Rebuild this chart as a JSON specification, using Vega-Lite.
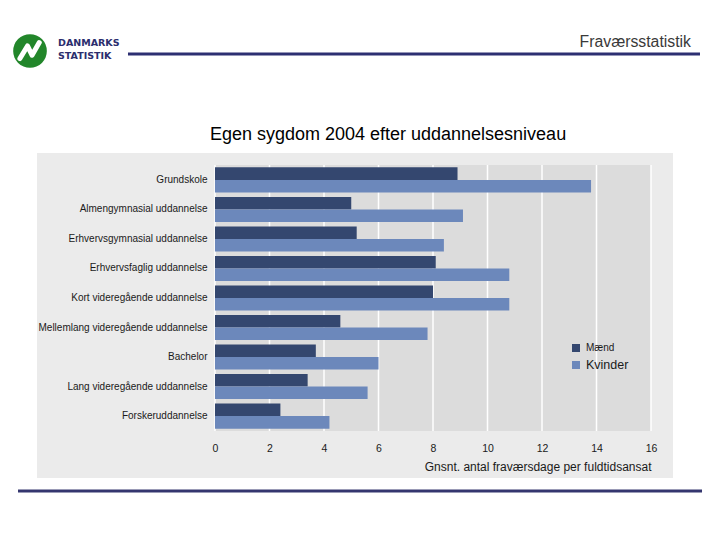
{
  "$schema": "https://vega.github.io/schema/vega-lite/v6.json",
  "width": 436,
  "height": 266,
  "autosize": {"type": "none"},
  "padding": {"left": 215, "top": 165, "right": 69, "bottom": 109},
  "background": "white",
  "config": {"view": {"stroke": null}, "font": "Liberation Sans"},
  "datasets": {
    "fravaer": [
      {"uddannelse": "Grundskole", "koen": "Mænd", "dage": 8.9},
      {"uddannelse": "Grundskole", "koen": "Kvinder", "dage": 13.8},
      {"uddannelse": "Almengymnasial uddannelse", "koen": "Mænd", "dage": 5.0},
      {"uddannelse": "Almengymnasial uddannelse", "koen": "Kvinder", "dage": 9.1},
      {"uddannelse": "Erhvervsgymnasial uddannelse", "koen": "Mænd", "dage": 5.2},
      {"uddannelse": "Erhvervsgymnasial uddannelse", "koen": "Kvinder", "dage": 8.4},
      {"uddannelse": "Erhvervsfaglig uddannelse", "koen": "Mænd", "dage": 8.1},
      {"uddannelse": "Erhvervsfaglig uddannelse", "koen": "Kvinder", "dage": 10.8},
      {"uddannelse": "Kort videregående uddannelse", "koen": "Mænd", "dage": 8.0},
      {"uddannelse": "Kort videregående uddannelse", "koen": "Kvinder", "dage": 10.8},
      {"uddannelse": "Mellemlang videregående uddannelse", "koen": "Mænd", "dage": 4.6},
      {"uddannelse": "Mellemlang videregående uddannelse", "koen": "Kvinder", "dage": 7.8},
      {"uddannelse": "Bachelor", "koen": "Mænd", "dage": 3.7},
      {"uddannelse": "Bachelor", "koen": "Kvinder", "dage": 6.0},
      {"uddannelse": "Lang videregående uddannelse", "koen": "Mænd", "dage": 3.4},
      {"uddannelse": "Lang videregående uddannelse", "koen": "Kvinder", "dage": 5.6},
      {"uddannelse": "Forskeruddannelse", "koen": "Mænd", "dage": 2.4},
      {"uddannelse": "Forskeruddannelse", "koen": "Kvinder", "dage": 4.2}
    ],
    "gitter": [{"v": 0}, {"v": 2}, {"v": 4}, {"v": 6}, {"v": 8}, {"v": 10}, {"v": 12}, {"v": 14}, {"v": 16}],
    "en": [{}]
  },
  "resolve": {"scale": {"y": "independent"}, "axis": {"y": "independent"}},
  "layer": [
    {
      "data": {"name": "en"},
      "mark": {"type": "rect", "fill": "#ebebeb", "clip": false},
      "encoding": {
        "x": {"datum": -6.532, "type": "quantitative", "scale": {"domain": [0, 16], "nice": false, "zero": false}},
        "x2": {"datum": 16.807},
        "y": {"datum": 1.0451, "type": "quantitative", "scale": {"domain": [0, 1], "nice": false, "zero": false}, "axis": null},
        "y2": {"datum": -0.1767}
      }
    },
    {
      "data": {"name": "en"},
      "mark": {"type": "rect", "fill": "#dcdcdc", "clip": false},
      "encoding": {
        "x": {"datum": 0, "type": "quantitative", "scale": {"domain": [0, 16], "nice": false, "zero": false}},
        "x2": {"datum": 16},
        "y": {"datum": 1, "type": "quantitative", "scale": {"domain": [0, 1], "nice": false, "zero": false}, "axis": null},
        "y2": {"datum": 0}
      }
    },
    {
      "data": {"name": "gitter"},
      "mark": {"type": "rule", "stroke": "white", "strokeWidth": 1.5},
      "encoding": {
        "x": {"field": "v", "type": "quantitative", "scale": {"domain": [0, 16], "nice": false, "zero": false}}
      }
    },
    {
      "data": {"name": "fravaer"},
      "mark": {"type": "bar", "clip": false},
      "encoding": {
        "y": {
          "field": "uddannelse", "type": "nominal", "sort": null,
          "scale": {"paddingInner": 0.15, "paddingOuter": 0.08},
          "axis": {"title": null, "ticks": false, "domain": false, "labelPadding": 8, "labelFontSize": 10, "labelColor": "#1a1a1a", "labelLimit": 250, "zindex": 1}
        },
        "yOffset": {"field": "koen", "type": "nominal", "sort": ["Mænd", "Kvinder"], "scale": {"paddingInner": 0, "paddingOuter": 0}},
        "x": {
          "field": "dage", "type": "quantitative",
          "scale": {"domain": [0, 16], "nice": false, "zero": false},
          "axis": {
            "values": [0, 2, 4, 6, 8, 10, 12, 14, 16], "grid": false, "ticks": false, "domain": false, "zindex": 1,
            "labelFlush": false, "labelPadding": 12, "labelFontSize": 10.5, "labelColor": "#1a1a1a",
            "title": "Gnsnt. antal fraværsdage per fuldtidsansat", "titleAnchor": "end", "titleFontWeight": "normal",
            "titleFontSize": 12, "titleColor": "#1a1a1a", "titlePadding": 8
          }
        },
        "color": {
          "field": "koen", "type": "nominal",
          "scale": {"domain": ["Mænd", "Kvinder"], "range": ["#34476f", "#6c88bb"]},
          "legend": {
            "title": null, "orient": "none", "legendX": 356, "legendY": 178,
            "symbolType": "square", "symbolSize": 64, "symbolStrokeWidth": 0, "labelFontSize": 10, "labelColor": "#1a1a1a",
            "rowPadding": 6, "labelOffset": 5, "padding": 0,
            "encode": {"labels": {"update": {"fontSize": {"signal": "datum.label === 'Kvinder' ? 12.5 : 10"}}}}
          }
        }
      }
    },
    {
      "data": {"name": "en"},
      "mark": {"type": "text", "text": "Egen sygdom 2004 efter uddannelsesniveau", "fontSize": 18, "align": "center", "baseline": "middle", "color": "#000000", "clip": false},
      "encoding": {
        "x": {"datum": 6.349, "type": "quantitative", "scale": {"domain": [0, 16], "nice": false, "zero": false}},
        "y": {"datum": 1.1128, "type": "quantitative", "scale": {"domain": [0, 1], "nice": false, "zero": false}, "axis": null}
      }
    },
    {
      "data": {"name": "en"},
      "mark": {"type": "rule", "stroke": "#2d2f72", "strokeWidth": 3, "clip": false},
      "encoding": {
        "x": {"datum": -3.193, "type": "quantitative", "scale": {"domain": [0, 16], "nice": false, "zero": false}},
        "x2": {"datum": 17.798},
        "y": {"datum": 1.4173, "type": "quantitative", "scale": {"domain": [0, 1], "nice": false, "zero": false}, "axis": null}
      }
    },
    {
      "data": {"name": "en"},
      "mark": {"type": "rule", "stroke": "#34366f", "strokeWidth": 3, "clip": false},
      "encoding": {
        "x": {"datum": -7.229, "type": "quantitative", "scale": {"domain": [0, 16], "nice": false, "zero": false}},
        "x2": {"datum": 17.872},
        "y": {"datum": -0.2256, "type": "quantitative", "scale": {"domain": [0, 1], "nice": false, "zero": false}, "axis": null}
      }
    },
    {
      "data": {"name": "en"},
      "mark": {"type": "text", "text": "Fraværsstatistik", "fontSize": 15.8, "align": "right", "baseline": "middle", "color": "#3a3a3a", "clip": false},
      "encoding": {
        "x": {"datum": 17.468, "type": "quantitative", "scale": {"domain": [0, 16], "nice": false, "zero": false}},
        "y": {"datum": 1.4624, "type": "quantitative", "scale": {"domain": [0, 1], "nice": false, "zero": false}, "axis": null}
      }
    },
    {
      "data": {"name": "en"},
      "mark": {"type": "point", "shape": "circle", "size": 1134, "filled": true, "fill": "#22862a", "opacity": 1, "strokeWidth": 0, "clip": false},
      "encoding": {
        "x": {"datum": -6.789, "type": "quantitative", "scale": {"domain": [0, 16], "nice": false, "zero": false}},
        "y": {"datum": 1.4286, "type": "quantitative", "scale": {"domain": [0, 1], "nice": false, "zero": false}, "axis": null}
      }
    },
    {
      "data": {"name": "en"},
      "mark": {"type": "point", "shape": "M-0.6,0.45 L-0.15,-0.3 L0.12,0.25 L0.55,-0.5", "size": 1134, "filled": false, "stroke": "white", "strokeWidth": 5, "strokeJoin": "round", "strokeCap": "round", "opacity": 1, "clip": false},
      "encoding": {
        "x": {"datum": -6.789, "type": "quantitative", "scale": {"domain": [0, 16], "nice": false, "zero": false}},
        "y": {"datum": 1.4286, "type": "quantitative", "scale": {"domain": [0, 1], "nice": false, "zero": false}, "axis": null}
      }
    },
    {
      "data": {"name": "en"},
      "mark": {"type": "text", "text": "DANMARKS", "font": "DejaVu Sans", "fontSize": 9.5, "fontWeight": "bold", "align": "left", "baseline": "middle", "color": "#2b2e6e", "clip": false},
      "encoding": {
        "x": {"datum": -5.761, "type": "quantitative", "scale": {"domain": [0, 16], "nice": false, "zero": false}},
        "y": {"datum": 1.4605, "type": "quantitative", "scale": {"domain": [0, 1], "nice": false, "zero": false}, "axis": null}
      }
    },
    {
      "data": {"name": "en"},
      "mark": {"type": "text", "text": "STATISTIK", "font": "DejaVu Sans", "fontSize": 9.5, "fontWeight": "bold", "align": "left", "baseline": "middle", "color": "#2b2e6e", "clip": false},
      "encoding": {
        "x": {"datum": -5.761, "type": "quantitative", "scale": {"domain": [0, 16], "nice": false, "zero": false}},
        "y": {"datum": 1.4079, "type": "quantitative", "scale": {"domain": [0, 1], "nice": false, "zero": false}, "axis": null}
      }
    }
  ]
}
